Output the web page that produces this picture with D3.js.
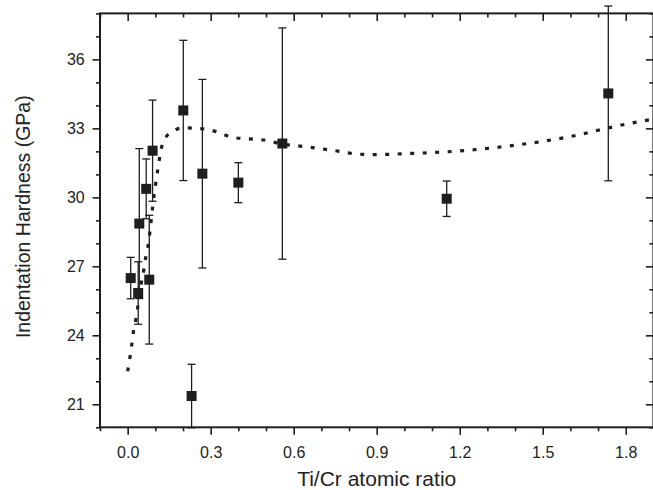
<!DOCTYPE html>
<html><head><meta charset="utf-8">
<script src="https://cdn.jsdelivr.net/npm/d3@7"></script>
<style>body{margin:0;background:#fff}svg{display:block}text{font-family:"Liberation Sans",Arial,sans-serif;fill:#222}</style>
</head><body><svg id="c" width="653" height="490"></svg>
<script>
// Data
const ratio    = [0.011, 0.038, 0.042, 0.067, 0.078, 0.090, 0.201, 0.231, 0.270, 0.400, 0.559, 1.153, 1.737];
const hardness = [26.49, 25.84, 28.86, 30.37, 26.42, 32.03, 33.78, 21.36, 31.03, 30.64, 32.34, 29.94, 34.52];
const hardErr  = [0.90, 1.36, 3.26, 1.30, 2.80, 2.20, 3.05, 1.38, 4.10, 0.87, 5.03, 0.77, 3.80];
const fitX = [0.0, 0.008, 0.014, 0.02, 0.029, 0.036, 0.044, 0.05, 0.059, 0.066, 0.075, 0.081, 0.086, 0.091, 0.097, 0.103, 0.110, 0.117, 0.125, 0.14, 0.16, 0.2, 0.249, 0.291, 0.34, 0.38, 0.435, 0.514, 0.55, 0.653, 0.743, 0.833, 0.888, 1.026, 1.201, 1.346, 1.502, 1.623, 1.737, 1.851, 1.9];
const fitY = [22.44, 23.02, 23.53, 24.09, 24.65, 25.2, 25.76, 26.31, 26.9, 27.44, 27.99, 28.57, 29.12, 29.65, 30.23, 30.74, 31.3, 31.83, 32.3, 32.65, 32.85, 33.02, 33.0, 32.95, 32.77, 32.6, 32.55, 32.45, 32.34, 32.19, 32.04, 31.88, 31.86, 31.91, 32.02, 32.19, 32.44, 32.70, 33.02, 33.30, 33.4];
const xMajor = [0.0, 0.3, 0.6, 0.9, 1.2, 1.5, 1.8];
const yMajor = [21, 24, 27, 30, 33, 36];
const xTitle = "Ti/Cr atomic ratio";
const yTitle = "Indentation Hardness (GPa)";

const svg = d3.select("#c");
const L = 100, R = 653.4, T = 13.4, B = 427.3;
const x = d3.scaleLinear().domain([-0.1, 1.9]).range([L, R]);
const y = d3.scaleLinear().domain([20, 38]).range([B, T]);
const ink = "#1e1e1e";

const xMinor = d3.range(-0.1, 1.95, 0.1).map(v => +v.toFixed(2)).filter(v => !xMajor.some(m => Math.abs(m - v) < 1e-6));
const yMinor = d3.range(20, 38.5, 1).filter(v => !yMajor.includes(v));

function axis(gen, tr, vals, size, labels) {
  const g = svg.append("g").attr("transform", tr)
    .call(gen.tickValues(vals).tickSize(size).tickSizeOuter(0).tickFormat(labels ? null : ""));
  g.select(".domain").remove();
  g.selectAll(".tick line").attr("stroke", ink).attr("stroke-width", 1.6);
  return g;
}
// bottom
const bx = axis(d3.axisBottom(x), `translate(0,${B})`, xMajor, 7.5, true);
bx.selectAll("text").attr("font-size", 16).attr("dy", "1.25em").attr("fill", "#222").text(d => d.toFixed(1));
axis(d3.axisBottom(x), `translate(0,${B})`, xMinor, 4, false);
// top (inward)
axis(d3.axisBottom(x), `translate(0,${T})`, xMajor, 7.5, false);
axis(d3.axisBottom(x), `translate(0,${T})`, xMinor, 4, false);
// left
const ly = axis(d3.axisLeft(y), `translate(${L},0)`, yMajor, 7.5, true);
ly.selectAll("text").attr("font-size", 16).attr("dx", "-0.3em").attr("fill", "#222");
axis(d3.axisLeft(y), `translate(${L},0)`, yMinor, 4, false);
// right (inward)
axis(d3.axisLeft(y), `translate(${R},0)`, yMajor, 7.5, false);
axis(d3.axisLeft(y), `translate(${R},0)`, yMinor, 4, false);

// frame
svg.append("rect").attr("x", L).attr("y", T).attr("width", R - L).attr("height", B - T)
  .attr("fill", "none").attr("stroke", ink).attr("stroke-width", 2);

// fit line
const fit = fitX.map((v, i) => [v, fitY[i]]);
svg.append("path").datum(fit)
  .attr("d", d3.line().x(d => x(d[0])).y(d => y(d[1])).curve(d3.curveMonotoneX))
  .attr("fill", "none").attr("stroke", ink).attr("stroke-width", 3.2).attr("stroke-dasharray", "4,8.5");

// error bars
const pts = ratio.map((v, i) => ({x: v, y: hardness[i], e: hardErr[i]}));
const eb = svg.append("g").attr("stroke", ink).attr("stroke-width", 1.3);
pts.forEach(p => {
  const cx = x(p.x), y1 = y(p.y + p.e), y0 = y(p.y - p.e);
  eb.append("line").attr("x1", cx).attr("x2", cx).attr("y1", y1).attr("y2", y0);
  eb.append("line").attr("x1", cx - 4).attr("x2", cx + 4).attr("y1", y1).attr("y2", y1);
  eb.append("line").attr("x1", cx - 4).attr("x2", cx + 4).attr("y1", y0).attr("y2", y0);
});
// markers
svg.append("g").selectAll("rect").data(pts).join("rect")
  .attr("x", d => x(d.x) - 5).attr("y", d => y(d.y) - 5).attr("width", 10).attr("height", 10)
  .attr("fill", ink);

// titles
svg.append("text").attr("x", 376.7).attr("y", 486).attr("text-anchor", "middle")
  .attr("font-size", 21).text(xTitle);
svg.append("text").attr("transform", "translate(30,216.7) rotate(-90)").attr("text-anchor", "middle")
  .attr("font-size", 19.5).text(yTitle);
</script></body></html>
